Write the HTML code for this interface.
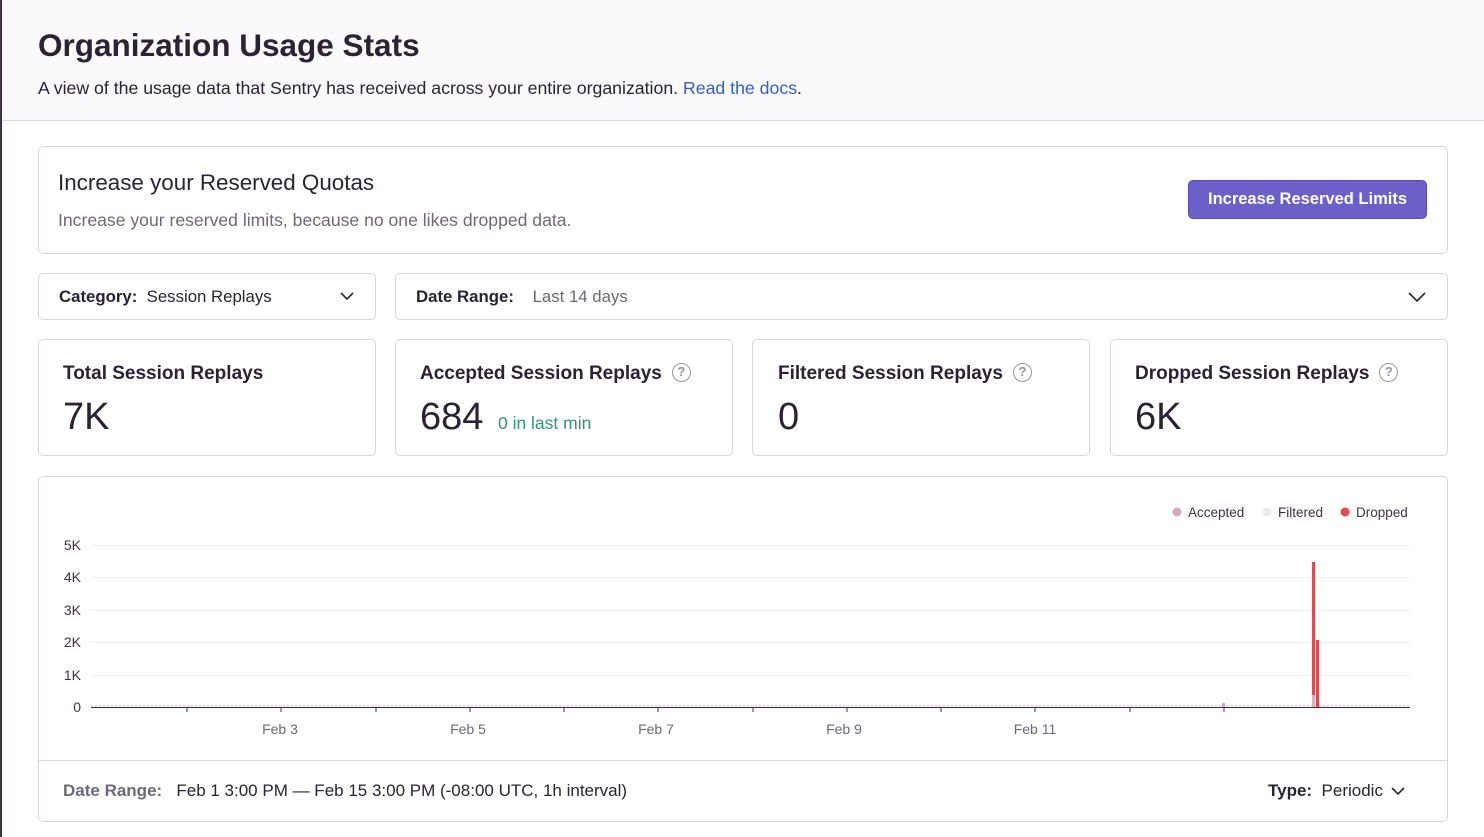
<!DOCTYPE html>
<html><head><style>
*{box-sizing:border-box;margin:0;padding:0}
body{width:1484px;height:837px;position:relative;background:#fff;font-family:"Liberation Sans",sans-serif;color:#2b2233;overflow:hidden}
.a{position:absolute}
.card{position:absolute;border:1px solid #d9d5de;border-radius:5px;background:#fff}
.q{display:inline-block;width:19px;height:19px;border:1.5px solid #9a93a3;border-radius:50%;font-size:13px;color:#9a93a3;text-align:center;line-height:16px;vertical-align:3px;margin-left:10px}
</style></head><body>
<div class="a" style="left:0;top:0;width:1484px;height:121px;background:#faf9fb;border-bottom:1px solid #dcd8e0"></div>
<div class="a" style="left:0;top:0;width:2px;height:837px;background:#3e3446"></div>
<div class="a" style="left:38px;top:27px;font-size:31.5px;font-weight:bold">Organization Usage Stats</div>
<div class="a" style="left:38px;top:78px;font-size:17.7px">A view of the usage data that Sentry has received across your entire organization. <span style="color:#2c5fcf">Read the docs</span>.</div>

<div class="card" style="left:38px;top:146px;width:1410px;height:108px"></div>
<div class="a" style="left:58px;top:170px;font-size:22.4px">Increase your Reserved Quotas</div>
<div class="a" style="left:58px;top:210px;font-size:17.6px;color:#6f6779">Increase your reserved limits, because no one likes dropped data.</div>
<div class="a" style="left:1188px;top:180px;width:239px;height:39px;background:#6c5fc7;border:1px solid #584ac0;border-radius:5px;color:#fff;font-weight:bold;font-size:16.5px;text-align:center;line-height:37px">Increase Reserved Limits</div>

<div class="card" style="left:38px;top:273px;width:338px;height:47px"></div>
<div class="a" style="left:59px;top:287px;font-size:16.8px"><b>Category:</b>&nbsp; Session Replays</div>
<svg class="a" style="left:340px;top:291px" width="14" height="10"><path d="M1 2l6 6 6-6" stroke="#2b2233" stroke-width="1.6" fill="none"/></svg>
<div class="card" style="left:395px;top:273px;width:1053px;height:47px"></div>
<div class="a" style="left:416px;top:287px;font-size:16.8px"><b>Date Range:</b>&nbsp;&nbsp;&nbsp; <span style="color:#6f6779">Last 14 days</span></div>
<svg class="a" style="left:1408px;top:291px" width="18" height="11"><path d="M1 2l8 8 8-8" stroke="#2b2233" stroke-width="1.6" fill="none"/></svg>

<div class="card" style="left:38px;top:339px;width:338px;height:117px"></div>
<div class="card" style="left:395px;top:339px;width:338px;height:117px"></div>
<div class="card" style="left:752px;top:339px;width:338px;height:117px"></div>
<div class="card" style="left:1110px;top:339px;width:338px;height:117px"></div>
<div class="a" style="left:63px;top:363px;font-size:19px;font-weight:bold">Total Session Replays</div>
<div class="a" style="left:420px;top:363px;font-size:19px;font-weight:bold">Accepted Session Replays<span class="q">?</span></div>
<div class="a" style="left:778px;top:363px;font-size:19px;font-weight:bold">Filtered Session Replays<span class="q">?</span></div>
<div class="a" style="left:1135px;top:363px;font-size:19px;font-weight:bold">Dropped Session Replays<span class="q">?</span></div>
<div class="a" style="left:63px;top:396px;font-size:38px">7K</div>
<div class="a" style="left:420px;top:396px;font-size:38px">684 <span style="font-size:17.5px;color:#2f9a6d;margin-left:4px">0 in last min</span></div>
<div class="a" style="left:778px;top:396px;font-size:38px">0</div>
<div class="a" style="left:1135px;top:396px;font-size:38px">6K</div>

<div class="card" style="left:38px;top:476px;width:1410px;height:346px"></div>
<div class="a" style="left:39px;top:760px;width:1408px;height:1px;background:#dcd8e0"></div>
<div class="a" style="left:63px;top:781px;font-size:17px"><span style="color:#6f6779;font-weight:bold">Date Range:</span>&nbsp;&nbsp; Feb 1 3:00 PM — Feb 15 3:00 PM (-08:00 UTC, 1h interval)</div>
<div class="a" style="left:1268px;top:781px;font-size:17px"><b>Type:</b>&nbsp; Periodic</div>
<svg class="a" style="left:1391px;top:786px" width="14" height="10"><path d="M1 2l6 6 6-6" stroke="#2b2233" stroke-width="1.6" fill="none"/></svg>

<svg class="a" style="left:0;top:0" width="1484" height="837" font-family="Liberation Sans" font-size="14" fill="#3e3446">
<g stroke="#f0eef2" stroke-width="1"><line x1="91" x2="1410" y1="545.5" y2="545.5"/><line x1="91" x2="1410" y1="577.5" y2="577.5"/><line x1="91" x2="1410" y1="610.5" y2="610.5"/><line x1="91" x2="1410" y1="642.5" y2="642.5"/><line x1="91" x2="1410" y1="675.5" y2="675.5"/></g>
<g text-anchor="end"><text x="81" y="550">5K</text><text x="81" y="582">4K</text><text x="81" y="615">3K</text><text x="81" y="647">2K</text><text x="81" y="680">1K</text><text x="81" y="712">0</text></g>
<line x1="91" x2="1410" y1="707.5" y2="707.5" stroke="#3e3446" stroke-width="1"/>
<line x1="91" x2="1410" y1="706" y2="706" stroke="#e8a8b8" stroke-width="1" stroke-dasharray="2 2"/>
<g stroke="#3e3446"><line x1="187" x2="187" y1="707" y2="712"/><line x1="281" x2="281" y1="707" y2="712"/><line x1="376" x2="376" y1="707" y2="712"/><line x1="470" x2="470" y1="707" y2="712"/><line x1="564" x2="564" y1="707" y2="712"/><line x1="658" x2="658" y1="707" y2="712"/><line x1="753" x2="753" y1="707" y2="712"/><line x1="847" x2="847" y1="707" y2="712"/><line x1="941" x2="941" y1="707" y2="712"/><line x1="1035" x2="1035" y1="707" y2="712"/><line x1="1130" x2="1130" y1="707" y2="712"/><line x1="1224" x2="1224" y1="707" y2="712"/></g>
<g text-anchor="middle" fill="#6f6779"><text x="280" y="734">Feb 3</text><text x="468" y="734">Feb 5</text><text x="656" y="734">Feb 7</text><text x="844" y="734">Feb 9</text><text x="1035" y="734">Feb 11</text></g>
<rect x="1222" y="703" width="3" height="4" fill="#e0a0c0"/>
<rect x="1312" y="562" width="3" height="145" fill="#e5484d"/>
<rect x="1312" y="695" width="3" height="12" fill="#e0b0c0"/>
<rect x="1316" y="640" width="3" height="67" fill="#e5484d"/>
<circle cx="1177" cy="512" r="4.5" fill="#d9a8c0"/><text x="1188" y="517" font-size="13.5">Accepted</text>
<circle cx="1267" cy="512" r="4.5" fill="#ece9ef"/><text x="1278" y="517" font-size="13.5">Filtered</text>
<circle cx="1345" cy="512" r="4.5" fill="#e5484d"/><text x="1356" y="517" font-size="13.5">Dropped</text>
</svg>
</body></html>
